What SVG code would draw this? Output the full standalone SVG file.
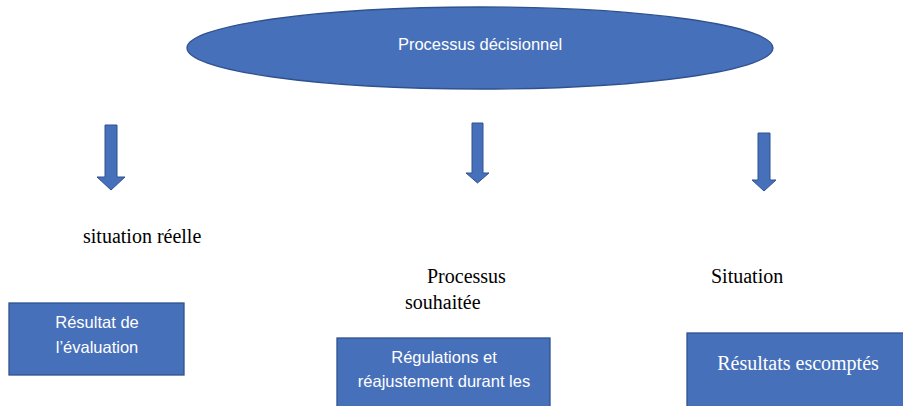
<svg xmlns="http://www.w3.org/2000/svg" width="903" height="406" viewBox="0 0 903 406">
<style>
.shape{fill:#4770BA;stroke:#2F528F;stroke-width:1.3}
.arrow{fill:#4770BA;stroke:#2F528F;stroke-width:1}
.wt{fill:#ffffff;font-family:"Liberation Sans","Open Sans",sans-serif;font-size:16.5px;text-anchor:middle}
.wtimes{fill:#ffffff;font-family:"Liberation Serif",serif;font-size:20px;text-anchor:middle}
.bt{fill:#000000;font-family:"Liberation Serif",serif;font-size:20px}
</style>
<rect width="903" height="406" fill="#ffffff"/>
<g id="processus-decisionnel">
<ellipse class="shape" cx="480" cy="48" rx="293" ry="41"/>
<text class="wt" x="480" y="50" font-size="15.5">Processus décisionnel</text>
</g>
<g id="connectors">
<path class="arrow" d="M105,125 H117 V177 H125 L111,190 L97,177 H105 Z"/>
<path class="arrow" d="M472,123 H483 V173 H489 L477.5,183 L466,173 H472 Z"/>
<path class="arrow" d="M758,133 H770 V180 H776 L764,191 L752,180 H758 Z"/>
</g>
<g id="label-situation-reelle">
<text class="bt" x="83" y="243">situation réelle</text>
</g>
<g id="label-processus-souhaitee">
<text class="bt" x="427" y="283">Processus</text>
<text class="bt" x="405" y="309">souhaitée</text>
</g>
<g id="label-situation">
<text class="bt" x="711" y="283">Situation</text>
</g>
<g id="resultat-evaluation">
<rect class="shape" x="9" y="303" width="175" height="72"/>
<text class="wt" x="97" y="328">Résultat de</text>
<text class="wt" x="97" y="353">l’évaluation</text>
</g>
<g id="regulations">
<rect class="shape" x="337" y="338" width="213" height="72"/>
<text class="wt" x="444" y="363">Régulations et</text>
<text class="wt" x="444" y="387">réajustement durant les</text>
</g>
<g id="resultats-escomptes">
<rect class="shape" x="687" y="333" width="220" height="75"/>
<text class="wtimes" x="798" y="370">Résultats escomptés</text>
</g>
</svg>
